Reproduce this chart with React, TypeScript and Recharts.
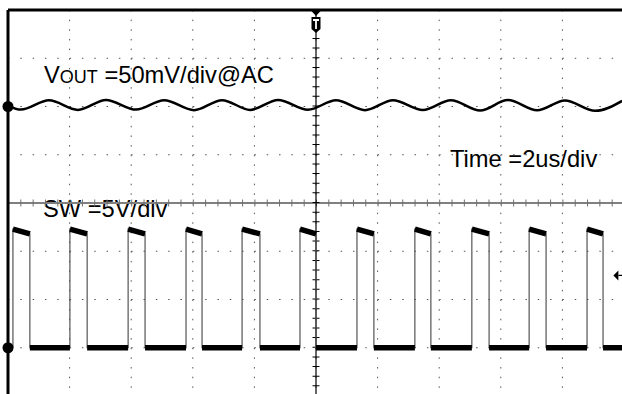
import { LineChart, Line, XAxis, YAxis, CartesianGrid, ReferenceLine, ReferenceDot } from "recharts";

// time in µs (2 µs/div), SW in V (5 V/div), VOUT ripple in mV (50 mV/div, AC)
const TIME_TICKS = [0, 2, 4, 6, 8, 10, 12, 14, 16, 18, 20];
const SW_TICKS = [-5, 0, 5, 10, 15, 20, 25, 30, 35];

const SW_RISE_US = [0.16, 2.01, 3.9, 5.78, 7.6, 9.48, 11.33, 13.21, 15.06, 16.92, 18.8];
const SW_FALL_US = [0.71, 2.57, 4.45, 6.3, 8.18, 10.0, 11.88, 13.73, 15.62, 17.47, 19.32];
const SW_LOW_V = 0;
const SW_HIGH_START_V = 12.3;
const SW_HIGH_END_V = 11.8;

const VOUT_T_US = [0, 0.42, 1.33, 2.27, 3.18, 4.16, 5.07, 6.04, 6.95, 7.86, 8.77, 9.74, 10.65, 11.59, 12.5, 13.47, 14.38, 15.33, 16.23, 17.18, 18.08, 19.06, 19.94];
const VOUT_MV = [1, -3.2, 6.4, -3.5, 6.8, -3.2, 6.5, -3.8, 6.6, -3.5, 6.8, -3.4, 6.5, -3.8, 6.6, -3.6, 6.6, -4.2, 6.7, -4.0, 6.3, -4.5, 5.8];

const TRIG_T_US = 19.85;
const TRIG_LEVEL_V = 7.5;

const FONT = "'Liberation Sans', Arial, sans-serif";

const voutData = VOUT_T_US.map((t, i) => ({ t, v: VOUT_MV[i] }));

const swData: { t: number; v: number }[] = [{ t: 0, v: SW_LOW_V }];
SW_RISE_US.forEach((r, i) => {
  swData.push({ t: r, v: SW_LOW_V }, { t: r, v: SW_HIGH_START_V });
  swData.push({ t: SW_FALL_US[i], v: SW_HIGH_END_V }, { t: SW_FALL_US[i], v: SW_LOW_V });
});
swData.push({ t: 20, v: SW_LOW_V });

// thick plateau segments (noise band), broken at each edge
const swFlat: { t: number; v: number | null }[] = [];
const seg = (a: number, b: number, va: number, vb: number) => {
  swFlat.push({ t: a, v: va }, { t: b, v: vb }, { t: b, v: null });
};
seg(0, SW_RISE_US[0], SW_LOW_V, SW_LOW_V);
SW_RISE_US.forEach((r, i) => {
  seg(r, SW_FALL_US[i], SW_HIGH_START_V, SW_HIGH_END_V);
  const next = i + 1 < SW_RISE_US.length ? SW_RISE_US[i + 1] : 20;
  seg(SW_FALL_US[i], next, SW_LOW_V, SW_LOW_V);
});

function TriggerMark({ cx, cy }: { cx?: number; cy?: number }) {
  const x = cx ?? 0;
  const y = cy ?? 0;
  return (
    <g>
      <path d={`M${x - 5.5},${y} L${x + 5.5},${y} L${x},${y + 6} Z`} fill="#000" />
      <path d={`M${x - 4.5},${y + 7} L${x + 4.5},${y + 7} L${x + 4.5},${y + 19} L${x},${y + 23} L${x - 4.5},${y + 19} Z`} fill="#000" />
      <path d={`M${x - 3},${y + 10} L${x + 3},${y + 10} M${x},${y + 10} L${x},${y + 19}`} stroke="#fff" strokeWidth={1.8} />
    </g>
  );
}

function LevelArrow({ cx, cy }: { cx?: number; cy?: number }) {
  const x = cx ?? 0;
  const y = cy ?? 0;
  return (
    <g>
      <path d={`M${x - 6},${y} L${x - 1},${y - 5} L${x - 1},${y + 5} Z`} fill="#000" />
      <path d={`M${x - 1},${y} L${x + 4},${y}`} stroke="#000" strokeWidth={1.2} />
    </g>
  );
}

export default function App() {
  return (
    <div style={{ position: "absolute", left: 0, top: 0, width: 622, height: 394, overflow: "hidden", background: "#fff" }}>
      <LineChart width={640} height={400} margin={{ top: 10, left: 8, right: 16, bottom: 4 }}>
        <XAxis dataKey="t" type="number" domain={[0, 20]} ticks={TIME_TICKS} hide allowDataOverflow />
        <YAxis yAxisId="sw" type="number" domain={[-5, 35]} ticks={SW_TICKS} hide allowDataOverflow />
        <YAxis yAxisId="vout" type="number" domain={[-300, 100]} hide allowDataOverflow />

        <CartesianGrid yAxisId="sw" vertical={false} stroke="#555" strokeDasharray="1.5 10.82" />
        <CartesianGrid yAxisId="sw" horizontal={false} stroke="#555" strokeDasharray="1.5 8.15" />

        <ReferenceLine yAxisId="sw" y={15} stroke="#808080" strokeWidth={2} />
        <ReferenceLine yAxisId="sw" y={15} stroke="#707070" strokeWidth={7} strokeDasharray="1 11.32" />
        <ReferenceLine yAxisId="sw" x={10} stroke="#000" strokeWidth={1.2} />
        <ReferenceLine yAxisId="sw" x={10} stroke="#000" strokeWidth={7} strokeDasharray="1 8.65" />
        <ReferenceLine yAxisId="sw" y={35} stroke="#000" strokeWidth={3} />
        <ReferenceLine yAxisId="sw" x={0} stroke="#000" strokeWidth={3} />

        <Line yAxisId="sw" data={swData} dataKey="v" type="linear" stroke="#555" strokeWidth={1.2} dot={false} activeDot={false} isAnimationActive={false} />
        <Line yAxisId="sw" data={swFlat} dataKey="v" type="linear" stroke="#000" strokeWidth={5.5} dot={false} activeDot={false} connectNulls={false} isAnimationActive={false} />
        <Line yAxisId="vout" data={voutData} dataKey="v" type="monotone" stroke="#000" strokeWidth={2.5} dot={false} activeDot={false} isAnimationActive={false} />

        <ReferenceDot yAxisId="vout" x={0} y={0} r={5.5} fill="#000" stroke="none" />
        <ReferenceDot yAxisId="sw" x={0} y={0} r={5.5} fill="#000" stroke="none" />
        <ReferenceDot yAxisId="sw" x={10} y={35} shape={TriggerMark} />
        <ReferenceDot yAxisId="sw" x={TRIG_T_US} y={TRIG_LEVEL_V} shape={LevelArrow} />

        <text x={44} y={83} fontFamily={FONT} fontSize={23.7} fill="#000">
          V<tspan fontSize={18}>OUT</tspan> =50mV/div@AC
        </text>
        <text x={450} y={167} fontFamily={FONT} fontSize={23.7} fill="#000">Time =2us/div</text>
        <text x={43} y={217} fontFamily={FONT} fontSize={23.7} fill="#000">SW =5V/div</text>
      </LineChart>
    </div>
  );
}
